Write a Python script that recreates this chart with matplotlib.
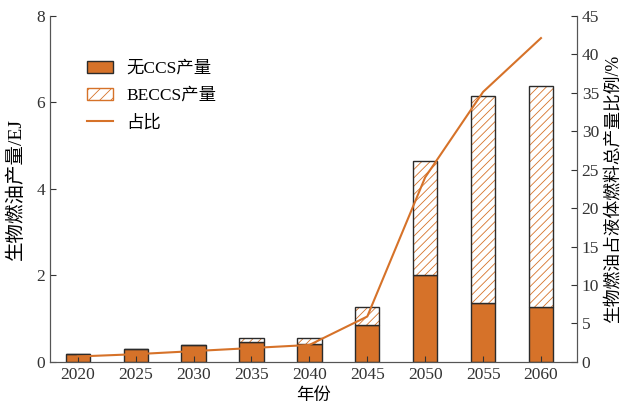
import numpy as np
import matplotlib
matplotlib.use("Agg")
import matplotlib.pyplot as plt
from matplotlib.patches import Patch
from matplotlib.lines import Line2D

plt.rcParams['font.family'] = ['Liberation Serif', 'Noto Sans CJK SC']
plt.rcParams['hatch.linewidth'] = 0.6

years = ['2020', '2025', '2030', '2035', '2040', '2045', '2050', '2055', '2060']
no_ccs = [0.19, 0.30, 0.39, 0.45, 0.42, 0.86, 2.00, 1.37, 1.28]
total = [0.19, 0.30, 0.39, 0.55, 0.56, 1.26, 4.65, 6.15, 6.38]
share = [0.7, 1.0, 1.4, 1.8, 2.2, 5.9, 24.0, 35.1, 42.1]

beccs = [t - n for t, n in zip(total, no_ccs)]

orange = '#D67229'
edge = '#2b2b2b'
x = np.arange(len(years))
w = 0.42

fig = plt.figure(figsize=(6.25, 4.15), dpi=100)
ax = fig.add_axes([0.08, 0.128, 0.843, 0.834])

ax.bar(x, no_ccs, w, color=orange, edgecolor=edge, linewidth=1.0)
# hatched part: hatch drawn in orange, dark outline drawn on top
ax.bar(x, beccs, w, bottom=no_ccs, color='white', edgecolor=orange,
       hatch='////', linewidth=0)
ax.bar(x, beccs, w, bottom=no_ccs, fill=False, edgecolor=edge, linewidth=1.0)

ax2 = ax.twinx()
ax2.plot(x, share, color=orange, linewidth=1.5)

ax.set_xlim(-0.48, 8.62)
ax.set_ylim(0, 8)
ax.set_yticks([0, 2, 4, 6, 8])
ax2.set_ylim(0, 45)
ax2.set_yticks(range(0, 46, 5))
ax.set_xticks(x)
ax.set_xticklabels(years)

for a in (ax, ax2):
    a.spines['top'].set_visible(False)
    for s in a.spines.values():
        s.set_color('#555555')
    a.tick_params(direction='in', labelsize=12.5, length=4, colors='#333333')

ax.set_xlabel('年份', fontsize=12.5)
ax.set_ylabel('生物燃油产量/EJ', fontsize=14, labelpad=8)
ax2.set_ylabel('生物燃油占液体燃料总产量比例/%', fontsize=12.8)

handles = [Patch(facecolor=orange, edgecolor=edge, linewidth=1.0),
           Patch(facecolor='white', edgecolor=orange, hatch='///', linewidth=1.0),
           Line2D([0], [0], color=orange, linewidth=1.5)]
leg = ax.legend(handles, ['无CCS产量', 'BECCS产量', '占比'], loc='upper left',
                bbox_to_anchor=(0.04, 0.915), frameon=False, fontsize=12.5,
                handlelength=1.5, handleheight=0.7, labelspacing=0.62,
                handletextpad=0.8)

fig.savefig('out.png', dpi=100)
